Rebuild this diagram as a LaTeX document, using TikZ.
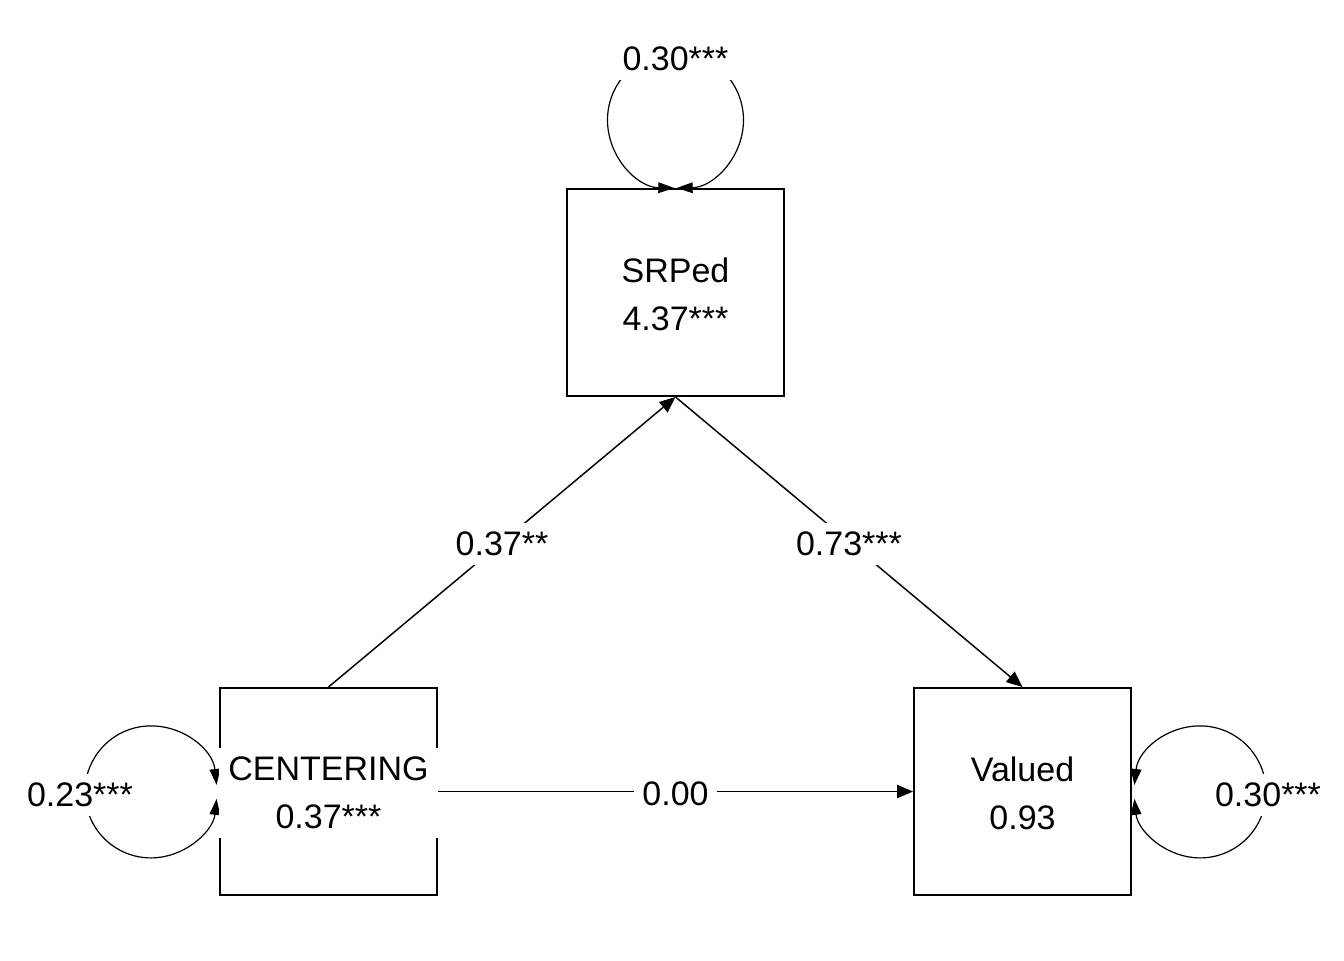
\documentclass[tikz,border=0pt]{standalone}
\usepackage{fontspec}
\setmainfont{Liberation Sans}
\usetikzlibrary{arrows.meta}

\tikzset{every picture/.style={line width=0.75pt}}
\tikzset{
  varbox/.style={draw, line width=1.5pt, minimum width=162.75pt, minimum height=155.25pt, inner sep=0pt},
  varlabel/.style={fill=white, inner xsep=7pt, inner ysep=7pt, yshift=-1.2pt, align=center, font=\fontsize{25.5}{36}\selectfont},
  estlabel/.style={fill=white, inner xsep=6pt, inner ysep=7pt, yshift=-1.5pt, font=\fontsize{25.5}{30}\selectfont},
  regline/.style={line width=1.1pt, -{Triangle[length=12pt,width=10pt]}},
  varloop/.style={line width=0.9pt, {Triangle[length=12pt,width=8pt]}-{Triangle[length=12pt,width=8pt]}},
}

\begin{document}
\begin{tikzpicture}[x=0.75pt,y=0.75pt,yscale=-1,xscale=1]
\useasboundingbox (0,0) rectangle (1344,960);

%Shape: Rectangle [id:srped]
\node[varbox] (srped) at (675.5,292.5) {};
%Shape: Rectangle [id:cen]
\node[varbox] (cen) at (328.5,791.5) {};
%Shape: Rectangle [id:val]
\node[varbox] (val) at (1022.5,791.5) {};

%Straight Lines [id:cen2srp]
\draw[regline] (cen.north) -- node[estlabel] (cen2srp) {0.37**} (srped.south);
%Straight Lines [id:srp2val]
\draw[regline] (srped.south) -- node[estlabel] (srp2val) {0.73***} (val.north);
%Straight Lines [id:cen2val]
\draw[regline] (cen.east) -- node[estlabel] (cen2val) {0.00} (val.west);

%Curve Lines [id:srploop]
\draw[varloop] ([shift={(-1.2,0)}]srped.north) arc[start angle=91, end angle=449, radius=68];
%Curve Lines [id:cenloop]
\draw[varloop] ([shift={(-2.4,-6.5)}]cen.west) arc[start angle=-6, end angle=-354, radius=66];
%Curve Lines [id:valloop]
\draw[varloop] ([shift={(2.4,-6.5)}]val.east) arc[start angle=186, end angle=534, radius=66];

% Text Node
\node[estlabel] (srpvar) at (675.5,57) {0.30***};
% Text Node
\node[estlabel] (cenvar) at (80,793) {0.23***};
% Text Node
\node[estlabel] (valvar) at (1268,793) {0.30***};

% Text Node
\node[varlabel] (srpedtxt) at (srped) {SRPed\\4.37***};
% Text Node
\node[varlabel] (centxt) at (cen) {CENTERING\\0.37***};
% Text Node
\node[varlabel] (valtxt) at (val) {Valued\\0.93};

\end{tikzpicture}
\end{document}
